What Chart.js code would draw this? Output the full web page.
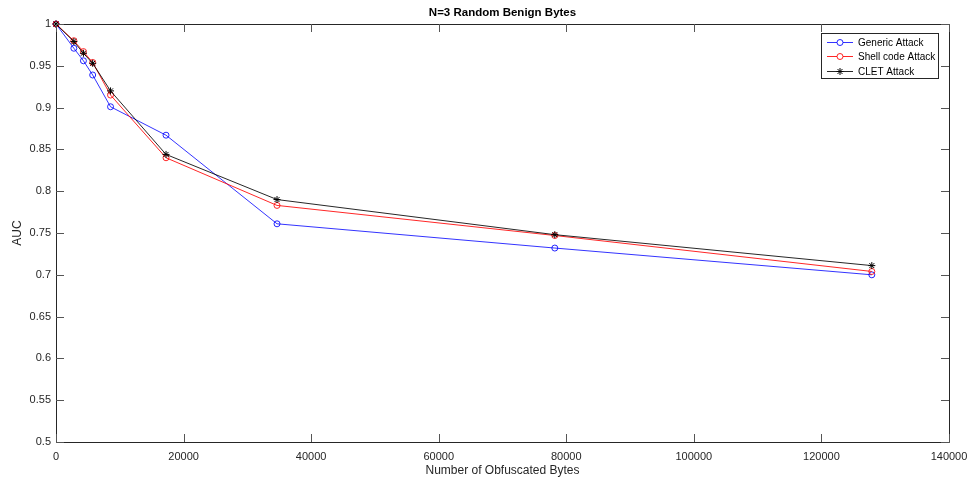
<!DOCTYPE html>
<html>
<head>
<meta charset="utf-8">
<title>N=3 Random Benign Bytes</title>
<script src="https://cdn.jsdelivr.net/npm/chart.js@4.4.1/dist/chart.umd.min.js"></script>
<style>
    html, body { margin: 0; padding: 0; background: #fff; }
    #wrap { width: 972px; height: 482px; position: relative; }
</style>
</head>
<body>
<div id="wrap"><canvas id="aucChart" width="972" height="482"></canvas></div>
<script>
// ── Data ─────────────────────────────────────────────────────────────────────
const obfuscatedBytes = [0, 2800, 4300, 5750, 8550, 17250, 34650, 78200, 127900];
const genericAuc = [1.000, 0.971, 0.956, 0.939, 0.901, 0.867, 0.761, 0.732, 0.700];
const shellAuc   = [1.000, 0.980, 0.967, 0.954, 0.915, 0.840, 0.783, 0.747, 0.704];
const cletAuc    = [1.000, 0.979, 0.965, 0.953, 0.920, 0.844, 0.790, 0.748, 0.711];

const seriesNames = ['Generic Attack', 'Shell code Attack', 'CLET Attack'];
const xTickValues = [0, 20000, 40000, 60000, 80000, 100000, 120000, 140000];
const yTickValues = [0.5, 0.55, 0.6, 0.65, 0.7, 0.75, 0.8, 0.85, 0.9, 0.95, 1];

const titleText = 'N=3 Random Benign Bytes';
const xTitle = 'Number of Obfuscated Bytes';
const yTitle = 'AUC';

// ── Helpers ──────────────────────────────────────────────────────────────────
const axisColor = '#262626';
const fontFamily = "'Liberation Sans', Arial, sans-serif";

function toPoints(ys) {
    return obfuscatedBytes.map((x, i) => ({ x: x, y: ys[i] }));
}

function fmtTick(v) {
    return String(Math.round(v * 100) / 100);
}

// Inward ticks, box and texts, drawn like a MATLAB axes
const matlabAxes = {
    id: 'matlabAxes',
    afterDraw(chart) {
        const ctx = chart.ctx;
        const a = chart.chartArea;
        const xs = chart.scales.x, ys = chart.scales.y;
        ctx.save();
        ctx.strokeStyle = axisColor;
        ctx.lineWidth = 1;
        ctx.beginPath();
        ctx.rect(Math.round(a.left) + 0.5, Math.round(a.top) + 0.5,
                 Math.round(a.right - a.left), Math.round(a.bottom - a.top));
        ctx.stroke();

        ctx.strokeStyle = '#555';
        ctx.beginPath();
        xTickValues.forEach(v => {
            const px = Math.round(xs.getPixelForValue(v)) + 0.5;
            ctx.moveTo(px, a.bottom); ctx.lineTo(px, a.bottom - 8);
            ctx.moveTo(px, a.top); ctx.lineTo(px, a.top + 8);
        });
        yTickValues.forEach(v => {
            const py = Math.round(ys.getPixelForValue(v)) + 0.5;
            ctx.moveTo(a.left, py); ctx.lineTo(a.left + 8, py);
            ctx.moveTo(a.right, py); ctx.lineTo(a.right - 8, py);
        });
        ctx.stroke();

        // title and axis titles
        ctx.fillStyle = '#000';
        ctx.textAlign = 'center';
        ctx.textBaseline = 'middle';
        ctx.font = 'bold 11.5px ' + fontFamily;
        ctx.fillText(titleText, (a.left + a.right) / 2, 13);
        ctx.fillStyle = axisColor;
        ctx.font = '12px ' + fontFamily;
        ctx.fillText(xTitle, (a.left + a.right) / 2, 471);
        ctx.save();
        ctx.translate(18, (a.top + a.bottom) / 2);
        ctx.rotate(-Math.PI / 2);
        ctx.fillText(yTitle, 0, 0);
        ctx.restore();

        // legend box
        const lx = 821, ly = 33, lw = 117, lh = 45;
        ctx.fillStyle = '#fff';
        ctx.fillRect(lx, ly, lw, lh);
        ctx.strokeStyle = '#262626';
        ctx.strokeRect(lx + 0.5, ly + 0.5, lw, lh);
        ctx.font = '10px ' + fontFamily;
        ctx.textAlign = 'left';
        chart.data.datasets.forEach((ds, i) => {
            const ry = Math.round(ly + 8.5 + i * 14.5) + 0.5;
            ctx.strokeStyle = ds.borderColor;
            ctx.lineWidth = 1;
            ctx.beginPath();
            ctx.moveTo(827, ry); ctx.lineTo(853, ry);
            ctx.stroke();
            ctx.strokeStyle = ds.pointBorderColor;
            ctx.fillStyle = '#fff';
            Chart.helpers.drawPoint(ctx, {
                pointStyle: ds.pointStyle,
                radius: ds.pointRadius,
                borderWidth: 1
            }, 840, ry);
            ctx.fillStyle = '#000';
            ctx.fillText(ds.label, 858, ry + 0.5);
        });
        ctx.restore();
    }
};

new Chart(document.getElementById('aucChart'), {
    type: 'scatter',
    data: {
        datasets: [
            {
                label: seriesNames[0],
                data: toPoints(genericAuc),
                showLine: true,
                borderColor: 'rgba(0, 0, 255, 0.8)',
                backgroundColor: 'rgba(0,0,0,0)',
                borderWidth: 1,
                pointStyle: 'circle',
                pointRadius: 3,
                pointBorderColor: 'rgba(0, 0, 255, 0.85)',
                pointBackgroundColor: 'rgba(0,0,0,0)',
                pointBorderWidth: 1,
                order: 2
            },
            {
                label: seriesNames[1],
                data: toPoints(shellAuc),
                showLine: true,
                borderColor: 'rgba(255, 0, 0, 0.85)',
                backgroundColor: 'rgba(0,0,0,0)',
                borderWidth: 1,
                pointStyle: 'circle',
                pointRadius: 3,
                pointBorderColor: 'rgba(255, 0, 0, 0.85)',
                pointBackgroundColor: 'rgba(0,0,0,0)',
                pointBorderWidth: 1,
                order: 1
            },
            {
                label: seriesNames[2],
                data: toPoints(cletAuc),
                showLine: true,
                borderColor: 'rgba(0, 0, 0, 0.85)',
                backgroundColor: 'rgba(0,0,0,0)',
                borderWidth: 1,
                pointStyle: 'star',
                pointRadius: 3.5,
                pointBorderColor: '#000',
                pointBackgroundColor: 'rgba(0,0,0,0)',
                pointBorderWidth: 1,
                order: 0
            }
        ]
    },
    options: {
        responsive: false,
        animation: false,
        devicePixelRatio: 1,
        clip: false,
        layout: { padding: { left: 0, right: 23, top: 24, bottom: 0 } },
        plugins: {
            legend: { display: false },
            title: { display: false },
            tooltip: { enabled: false }
        },
        scales: {
            x: {
                type: 'linear',
                min: 0,
                max: 140000,
                afterFit: s => { s.height = 40; s.paddingLeft = 0; s.paddingRight = 0; },
                afterBuildTicks: s => { s.ticks = xTickValues.map(v => ({ value: v })); },
                grid: { display: false, drawTicks: false },
                border: { display: false },
                ticks: {
                    padding: 8,
                    color: axisColor,
                    font: { family: fontFamily, size: 11 },
                    maxRotation: 0,
                    callback: v => String(v)
                }
            },
            y: {
                type: 'linear',
                min: 0.5,
                max: 1,
                afterFit: s => { s.width = 56; s.paddingTop = 0; s.paddingBottom = 0; },
                afterBuildTicks: s => { s.ticks = yTickValues.map(v => ({ value: v })); },
                grid: { display: false, drawTicks: false },
                border: { display: false },
                ticks: {
                    padding: 5,
                    color: axisColor,
                    font: { family: fontFamily, size: 11 },
                    callback: v => fmtTick(v)
                }
            }
        }
    },
    plugins: [matlabAxes]
});
</script>
</body>
</html>
